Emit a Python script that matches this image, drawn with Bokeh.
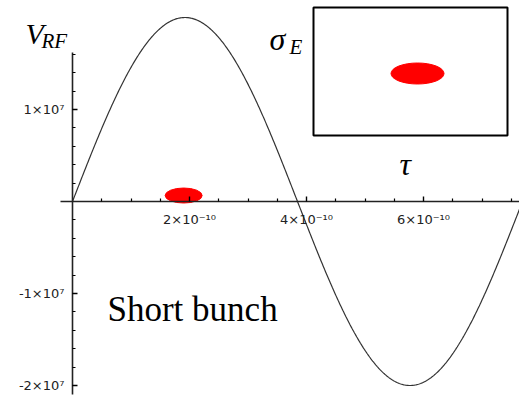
import numpy as np
from bokeh.plotting import figure
from bokeh.models import Range1d, LinearAxis, FixedTicker, Label
from bokeh.embed import file_html
from bokeh.resources import INLINE

# ---------------- data ----------------
AMPLITUDE = 2.0e7          # peak RF voltage
RF_FREQ = 1.3e9            # RF frequency (Hz)
T_END = 7.8e-10            # end of plotted time window

x_tick_values = [2e-10, 4e-10, 6e-10]
x_tick_labels = ["2×10⁻¹⁰", "4×10⁻¹⁰", "6×10⁻¹⁰"]
x_minor_ticks = [0.5e-10, 1.0e-10, 1.5e-10, 2.5e-10, 3.0e-10, 3.5e-10,
                 4.5e-10, 5.0e-10, 5.5e-10, 6.5e-10, 7.0e-10, 7.5e-10]
y_tick_values = [-2e7, -1e7, 1e7]
y_tick_labels = ["-2×10⁷", "-1×10⁷", "1×10⁷"]
y_minor_ticks = [v * 1e6 for v in (-20, -18, -16, -14, -12, -10, -8, -6, -4, -2,
                                   2, 4, 6, 8, 10, 12, 14, 16)]

bunch_t = [1.9e-10]        # short bunch position on the waveform
bunch_v = [0.065e7]

t = np.linspace(0.0, T_END, 600)
v = AMPLITUDE * np.sin(2 * np.pi * RF_FREQ * t)

# ---------------- geometry ----------------
W, H = 519, 396
PX_PER_T = 58.5 / 1e-10     # pixels per second
PX_PER_V = 92.0 / 1e7       # pixels per volt
ORIGIN_PX = (72, 201)       # origin position inside the figure

x_start = -ORIGIN_PX[0] / PX_PER_T
x_end = x_start + W / PX_PER_T
y_end = ORIGIN_PX[1] / PX_PER_V
y_start = y_end - H / PX_PER_V


def at(px, py):
    """figure pixel -> data coordinates (for annotations)"""
    return x_start + px / PX_PER_T, y_end - py / PX_PER_V


p = figure(width=W, height=H, x_range=Range1d(x_start, x_end),
           y_range=Range1d(y_start, y_end), output_backend="svg",
           toolbar_location=None, x_axis_type=None, y_axis_type=None,
           min_border=0)
p.outline_line_color = None
p.background_fill_color = "white"

xaxis = LinearAxis(
    ticker=FixedTicker(ticks=x_tick_values, minor_ticks=x_minor_ticks),
    fixed_location=0, bounds=(-0.2e-10, x_end),
    axis_line_width=1.6, axis_line_color="#222222",
    major_tick_in=5, major_tick_out=0, minor_tick_in=3, minor_tick_out=0,
    major_tick_line_width=1.4, minor_tick_line_width=1.2,
    major_label_overrides=dict(zip(x_tick_values, x_tick_labels)),
    major_label_text_font="DejaVu Sans", major_label_text_font_size="13px",
    major_label_text_color="#222222", major_label_standoff=10)
p.add_layout(xaxis, "below")

yaxis = LinearAxis(
    ticker=FixedTicker(ticks=y_tick_values, minor_ticks=y_minor_ticks),
    fixed_location=0, bounds=(-2.1e7, 1.62e7),
    axis_line_width=1.6, axis_line_color="#222222",
    major_tick_in=5, major_tick_out=0, minor_tick_in=3, minor_tick_out=0,
    major_tick_line_width=1.4, minor_tick_line_width=1.2,
    major_label_overrides=dict(zip(y_tick_values, y_tick_labels)),
    major_label_text_font="DejaVu Sans", major_label_text_font_size="13px",
    major_label_text_color="#222222", major_label_standoff=8)
p.add_layout(yaxis, "left")

p.line(t, v, line_color="#333333", line_width=1.2)

p.ellipse(bunch_t, bunch_v, width=37, height=15, width_units="screen",
          height_units="screen", fill_color="red", line_color="red")

# inset: longitudinal phase space
bx0, by0 = at(313, 7)
bx1, by1 = at(507, 135)
p.quad(left=[bx0], right=[bx1], top=[by0], bottom=[by1], fill_color="white",
       line_color="black", line_width=2)
ix, iy = at(417, 73)
p.ellipse([ix], [iy], width=53, height=21, width_units="screen",
          height_units="screen", fill_color="red", line_color="red")

serif = "Liberation Serif"


def lab(px, py, text, size, style="normal"):
    x, y = at(px, py)
    p.add_layout(Label(x=x, y=y, text=text, text_font=serif,
                       text_font_size=size, text_font_style=style,
                       text_align="left", text_baseline="alphabetic",
                       text_color="black"))


lab(25, 33, "V", "30px", "italic")
lab(41, 40, "RF", "21px", "italic")
lab(269, 38, "σ", "32px", "italic")
lab(289, 46, "E", "21px", "italic")
lab(399, 163, "τ", "32px", "italic")
lab(107, 309, "Short bunch", "35px")

open("out.html", "w").write(file_html(p, INLINE))
